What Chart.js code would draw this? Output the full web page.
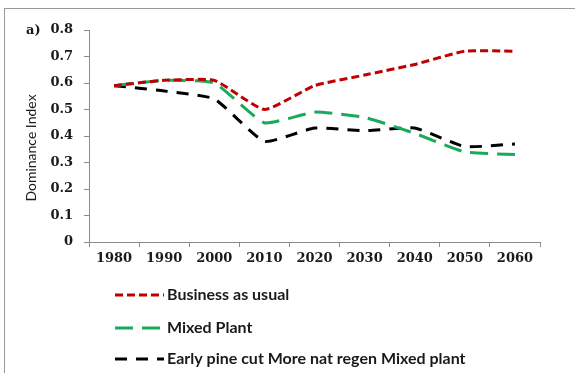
<!DOCTYPE html>
<html>
<head>
<meta charset="utf-8">
<script src="https://cdn.jsdelivr.net/npm/chart.js@4"></script>
<style>
  html, body { margin: 0; padding: 0; background: #fff; overflow: hidden; }
  #frame { position: absolute; left: 4px; top: 8px; width: 620px; height: 420px; border: 1px solid #9a9a9a; }
  #wrap { position: absolute; left: 0; top: 0; width: 575px; height: 373px; }
</style>
</head>
<body>
<div id="frame"></div>
<div id="wrap"><canvas id="dominanceChart"></canvas></div>
<script>
// данные
const years = ["1980", "1990", "2000", "2010", "2020", "2030", "2040", "2050", "2060"];
const businessAsUsual = [0.59, 0.61, 0.61, 0.50, 0.59, 0.63, 0.67, 0.72, 0.72];
const mixedPlant = [0.59, 0.61, 0.60, 0.45, 0.49, 0.47, 0.41, 0.34, 0.33];
const earlyPineCut = [0.59, 0.57, 0.54, 0.38, 0.43, 0.42, 0.43, 0.36, 0.37];
const seriesNames = ["Business as usual", "Mixed Plant", "Early pine cut More nat regen Mixed plant"];

const tickFont = { family: "DejaVu Serif", size: 13, weight: "bold" };

// подписи "a)", заголовок оси Y и легенда рисуются вручную
const extrasPlugin = {
  id: "extras",
  afterDraw(chart) {
    const ctx = chart.ctx;
    ctx.save();
    ctx.fillStyle = "#1a1a1a";
    ctx.font = "bold 13px 'DejaVu Serif'";
    ctx.textAlign = "left";
    ctx.textBaseline = "middle";
    ctx.fillText("a)", 26, 31);

    ctx.translate(31, 148);
    ctx.rotate(-Math.PI / 2);
    ctx.textAlign = "center";
    ctx.font = "14px Lato";
    ctx.fillText("Dominance Index", 0, 0);
    ctx.restore();

    ctx.save();
    const rows = [295, 328, 359];
    chart.data.datasets.forEach((ds, i) => {
      const y = rows[i];
      ctx.strokeStyle = ds.borderColor;
      ctx.lineWidth = ds.borderWidth;
      ctx.setLineDash(ds.borderDash);
      ctx.beginPath();
      ctx.moveTo(115, y);
      ctx.lineTo(164, y);
      ctx.stroke();
      ctx.setLineDash([]);
      ctx.fillStyle = "#1a1a1a";
      ctx.font = "bold 16px Lato";
      ctx.textAlign = "left";
      ctx.textBaseline = "middle";
      ctx.fillText(ds.label, 167, y);
    });
    ctx.restore();
  }
};

const ctx = document.getElementById("dominanceChart").getContext("2d");
new Chart(ctx, {
  type: "line",
  data: {
    labels: years,
    datasets: [
      {
        label: seriesNames[0],
        data: businessAsUsual,
        borderColor: "#c00000",
        borderWidth: 3,
        borderDash: [8, 4],
        pointRadius: 0,
        tension: 0.15,
        fill: false,
      },
      {
        label: seriesNames[1],
        data: mixedPlant,
        borderColor: "#1aaa5c",
        borderWidth: 3,
        borderDash: [18, 9],
        pointRadius: 0,
        tension: 0.15,
        fill: false,
      },
      {
        label: seriesNames[2],
        data: earlyPineCut,
        borderColor: "#000000",
        borderWidth: 3,
        borderDash: [12, 9],
        pointRadius: 0,
        tension: 0.15,
        fill: false,
      },
    ],
  },
  options: {
    responsive: true,
    maintainAspectRatio: false,
    animation: false,
    layout: { padding: { left: 0, top: 30, right: 35, bottom: 101 } },
    scales: {
      x: {
        offset: true,
        grid: {
          offset: true,
          drawOnChartArea: false,
          drawTicks: true,
          tickLength: 5,
          color: "#8c8c8c",
        },
        border: { color: "#8c8c8c", width: 1 },
        ticks: { font: tickFont, color: "#1a1a1a", padding: 4, maxRotation: 0 },
        afterFit(scale) { scale.height = 30; },
      },
      y: {
        min: 0,
        max: 0.8,
        grid: {
          drawOnChartArea: false,
          drawTicks: true,
          tickLength: 5,
          color: "#8c8c8c",
        },
        border: { color: "#8c8c8c", width: 1 },
        ticks: {
          stepSize: 0.1,
          font: tickFont,
          color: "#1a1a1a",
          padding: 11,
          callback: (v) => (v === 0 ? "0" : v.toFixed(1)),
        },
        afterFit(scale) { scale.width = 89; },
      },
    },
    plugins: {
      legend: { display: false },
      tooltip: { enabled: false },
    },
  },
  plugins: [extrasPlugin],
});
</script>
</body>
</html>
